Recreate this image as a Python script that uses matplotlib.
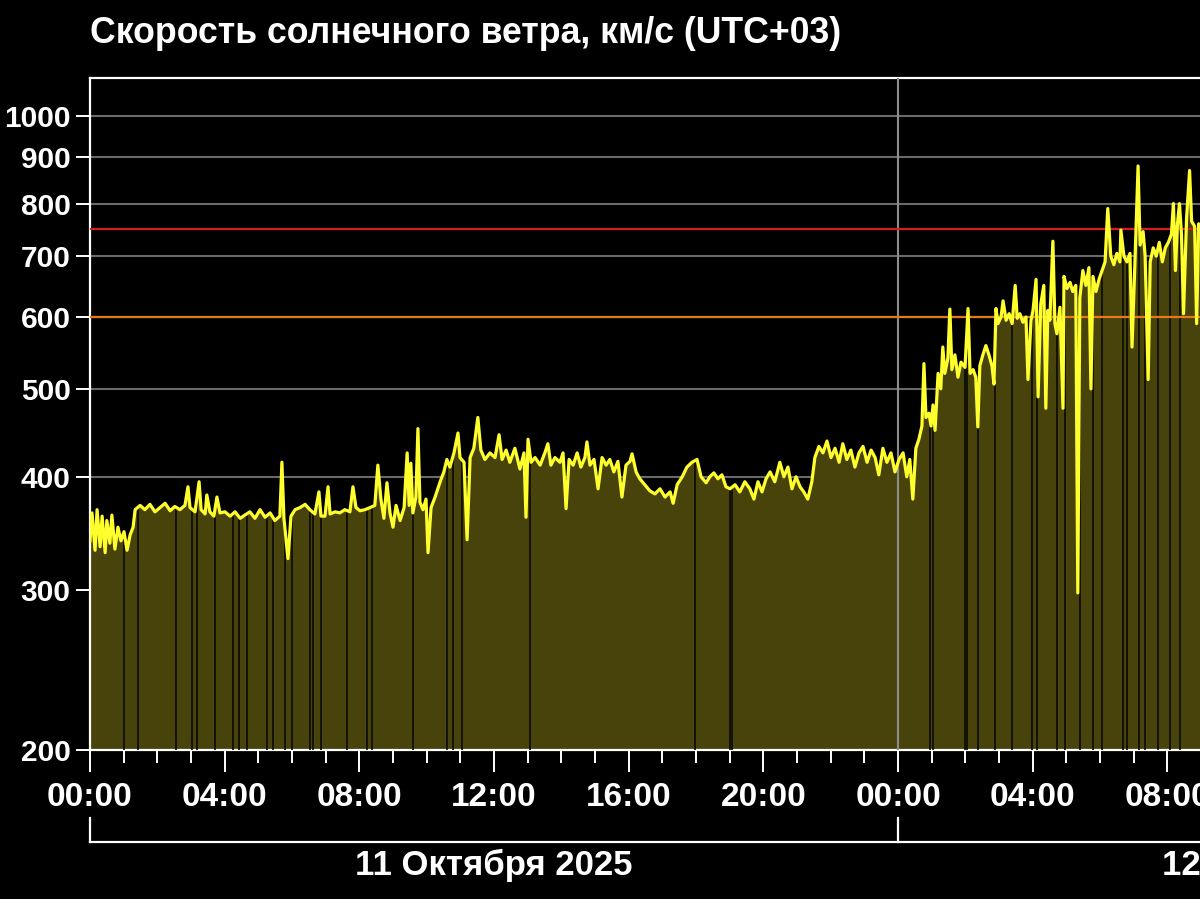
import numpy as np
import matplotlib
matplotlib.use("Agg")
import matplotlib.pyplot as plt
import matplotlib.transforms as mtransforms
from matplotlib.ticker import MultipleLocator

plt.rcParams['font.family'] = ['Liberation Sans', 'DejaVu Sans']
plt.rcParams['font.weight'] = 'bold'

title = 'Скорость солнечного ветра, км/с (UTC+03)'
day_labels = ['11 Октября 2025', '12 Октября 2025']
day_starts = [0, 24]

# hours since 11 Oct 00:00 (UTC+03), solar wind speed in km/s
hours = [
    0.00, 0.06, 0.15, 0.21, 0.30, 0.36, 0.45, 0.50, 0.59, 0.65,
    0.74, 0.83, 0.92, 1.01, 1.10, 1.19, 1.28, 1.34, 1.49, 1.63,
    1.78, 1.93, 2.08, 2.23, 2.38, 2.52, 2.67, 2.82, 2.91, 2.97,
    3.12, 3.24, 3.30, 3.42, 3.47, 3.56, 3.68, 3.77, 3.86, 4.01,
    4.16, 4.31, 4.46, 4.60, 4.75, 4.90, 5.05, 5.20, 5.35, 5.49,
    5.64, 5.70, 5.76, 5.88, 5.97, 6.09, 6.24,
    6.39, 6.53, 6.68, 6.80, 6.86, 6.98, 7.07, 7.13, 7.28, 7.42,
    7.57, 7.72, 7.81, 7.90, 8.02, 8.17, 8.32, 8.46, 8.55, 8.64,
    8.73, 8.82, 8.91, 9.00, 9.09, 9.21, 9.33, 9.42, 9.48, 9.53,
    9.59, 9.68, 9.74, 9.80, 9.89, 9.98, 10.04, 10.13, 10.25, 10.40,
    10.51, 10.60, 10.69, 10.81, 10.93, 10.99, 11.11, 11.20, 11.29, 11.40,
    11.52, 11.61, 11.73, 11.88, 12.03, 12.15, 12.24, 12.36,
    12.47, 12.62, 12.77, 12.89, 12.95, 13.01, 13.10, 13.22, 13.37, 13.51,
    13.60, 13.69, 13.81, 13.96, 14.05, 14.14, 14.23, 14.35, 14.47, 14.58,
    14.70, 14.76, 14.85, 14.97, 15.09, 15.21, 15.33, 15.44, 15.56, 15.68,
    15.80, 15.92, 16.04, 16.10, 16.22, 16.33, 16.48, 16.63, 16.78, 16.93,
    17.08, 17.23, 17.32, 17.44, 17.59, 17.73, 17.88, 18.03, 18.15, 18.30,
    18.41, 18.53, 18.65, 18.77,
    18.89, 19.01, 19.16, 19.30, 19.45, 19.60, 19.72, 19.84, 19.96, 20.08,
    20.20, 20.34, 20.49, 20.61, 20.73, 20.85, 20.97, 21.09, 21.20, 21.32,
    21.44, 21.53, 21.65, 21.77, 21.89, 22.01, 22.13, 22.25, 22.36, 22.48,
    22.60, 22.72, 22.84, 22.96, 23.08, 23.20, 23.32, 23.43, 23.55, 23.67,
    23.79, 23.91, 24.03,
    24.15, 24.26, 24.35, 24.44, 24.53, 24.62, 24.71, 24.77, 24.83, 24.92,
    24.98, 25.04, 25.10, 25.19, 25.27, 25.33, 25.39, 25.48, 25.54, 25.60,
    25.69, 25.78, 25.87, 25.99, 26.08, 26.14, 26.23, 26.31, 26.37, 26.43,
    26.52, 26.61, 26.70, 26.79, 26.85, 26.91, 26.97, 27.06, 27.12, 27.21,
    27.30, 27.39, 27.48, 27.54, 27.62, 27.71, 27.80, 27.86, 27.95, 28.01,
    28.10, 28.16, 28.24, 28.33, 28.39, 28.45, 28.51,
    28.60, 28.66, 28.72, 28.81, 28.90, 28.93, 29.02, 29.11, 29.19, 29.28,
    29.34, 29.40, 29.49, 29.58, 29.67, 29.73, 29.79, 29.88, 29.97, 30.06,
    30.15, 30.23, 30.32, 30.41, 30.50, 30.59, 30.62, 30.71, 30.80, 30.89,
    30.95, 31.04, 31.13, 31.19, 31.28, 31.34, 31.43, 31.49, 31.58, 31.67,
    31.76, 31.85, 31.94, 32.03, 32.12, 32.18, 32.24, 32.30, 32.36, 32.42,
    32.48, 32.57, 32.66, 32.72, 32.81, 32.87, 32.93, 33.02, 33.14,
]
speed = [
    340, 365, 332, 368, 335, 362, 330, 358, 338, 363,
    333, 352, 340, 348, 332, 345, 352, 368, 372, 368,
    373, 366, 370, 374, 367, 371, 368, 372, 390, 370,
    366, 395, 368, 364, 382, 366, 362, 380, 365, 366,
    362, 366, 360, 363, 366, 360, 368, 361, 365, 358,
    362, 415, 360, 325, 362, 368, 370,
    373, 368, 364, 385, 362, 362, 390, 364, 366, 365,
    368, 366, 390, 370, 367, 368, 370, 372, 412, 378,
    360, 394, 365, 352, 372, 358, 370, 425, 372, 414,
    365, 380, 452, 375, 368, 378, 330, 370, 380, 395,
    405, 418, 410, 425, 447, 420, 415, 341, 420, 430,
    465, 428, 418, 425, 420, 445, 418, 428,
    415, 430, 408, 425, 361, 440, 415, 420, 412, 425,
    435, 412, 420, 415, 425, 369, 418, 412, 425, 410,
    420, 437, 412, 418, 388, 420, 412, 418, 405, 416,
    380, 412, 416, 424, 405, 398, 392, 386, 383, 388,
    380, 385, 374, 392, 400, 410, 415, 418, 400, 394,
    400, 404, 398, 402,
    390, 388, 392, 385, 395, 388, 378, 395, 385, 398,
    405, 395, 415, 400, 410, 388, 400, 390, 385, 378,
    395, 420, 432, 425, 438, 420, 430, 415, 435, 418,
    428, 410, 425, 432, 415, 428, 420, 402, 430, 415,
    425, 405, 418,
    425, 400, 418, 378, 430, 440, 455, 533, 465, 470,
    455, 480, 450, 520, 500, 556, 520, 540, 612, 525,
    545, 515, 535, 528, 613, 520, 525, 515, 454, 530,
    545, 558, 545, 530, 506, 613, 590, 600, 625, 595,
    605, 590, 650, 598, 605, 592, 600, 512, 595, 610,
    660, 490, 620, 650, 476, 610, 595,
    727, 590, 575, 615, 476, 665, 645, 655, 640, 650,
    298, 630, 675, 650, 680, 500, 665, 640, 660, 675,
    690, 790, 700, 685, 705, 690, 748, 700, 690, 705,
    556, 695, 880, 720, 745, 700, 512, 690, 715, 700,
    725, 690, 715, 725, 740, 800, 675, 760, 800, 740,
    605, 770, 870, 765, 755, 590, 760, 750, 745,
]

# moments with missing data (dark stripes through the fill)
gap_hours = [1.01, 1.43, 2.55, 3.03, 3.18, 3.71, 4.25, 4.43, 4.66, 5.26,
             5.44, 5.79, 6.00, 6.53, 6.62, 6.86, 7.63, 8.23, 8.38, 9.59,
             10.60, 10.78, 11.05, 13.07, 17.97, 19.00, 19.07, 24.95, 25.04,
             25.99, 26.05, 26.37, 26.88, 27.38, 27.98, 28.13, 28.72, 28.96,
             29.40, 29.79, 30.06, 30.68, 30.80, 31.16, 31.33, 31.72, 32.08,
             32.37]

y_ticks = [200, 300, 400, 500, 600, 700, 800, 900, 1000]
grid_levels = [300, 400, 500, 600, 700, 800, 900, 1000]
level_red = 750
level_orange = 600

hours = np.array(hours)
speed = np.array(speed)

fig = plt.figure(figsize=(12, 8.99), dpi=100, facecolor='black')
# the axes run past the right edge, the picture shows only ~33 h of 48
ax = fig.add_axes([0.075, 0.1657, 1.3467, 0.7475], facecolor='black')

ax.set_yscale('log')
ax.set_ylim(200, 1100)
ax.set_xlim(0, 48)

for lv in grid_levels:
    ax.axhline(lv, color='#6a6a6a', lw=1.5, zorder=1)

ax.fill_between(hours, 200, speed, color='#48430a', lw=0, zorder=2)
gap_top = np.interp(gap_hours, hours, speed)
ax.vlines(gap_hours, 200, gap_top, color='#0a0a00', lw=1.2, zorder=3)

ax.axvline(24, color='#8c8c8c', lw=1.5, zorder=4)
ax.axhline(level_red, color='#d41e1e', lw=1.6, zorder=4)
ax.axhline(level_orange, color='#e87818', lw=1.6, zorder=4)

ax.plot(hours, speed, color='#ffff2e', lw=2.3, zorder=5)

ax.set_yticks(y_ticks)
ax.set_yticklabels([str(v) for v in y_ticks])
ax.yaxis.set_minor_locator(plt.NullLocator())

x_major = list(range(0, 49, 4))
ax.set_xticks(x_major)
ax.set_xticklabels([f'{h % 24:02d}:00' for h in x_major])
ax.xaxis.set_minor_locator(MultipleLocator(1))

ax.tick_params(axis='y', which='major', colors='white', labelsize=21.5,
               length=10, width=1.4, pad=4)
ax.tick_params(axis='x', which='major', colors='white', labelsize=24,
               length=16, width=1.4, pad=7)
ax.tick_params(axis='x', which='minor', colors='white', length=9, width=1.4)

for side in ['left', 'top', 'bottom']:
    ax.spines[side].set_color('white')
    ax.spines[side].set_linewidth(1.6)
ax.spines['right'].set_visible(False)

fig.text(0.075, 0.963, title, color='white', fontsize=25.7,
         fontweight='bold', va='center', ha='left')

# day brackets below the time axis
trans = mtransforms.blended_transform_factory(ax.transData, fig.transFigure)
ax.plot([0, 48], [0.0634, 0.0634], color='white', lw=1.6,
        transform=trans, clip_on=False)
for d, lab in zip(day_starts, day_labels):
    ax.plot([d, d], [0.0634, 0.0901], color='white', lw=1.6,
            transform=trans, clip_on=False)
    ax.text(d + 12, 0.0378, lab, color='white', fontsize=25,
            fontweight='bold', ha='center', va='center', transform=trans)

fig.savefig('out.png', dpi=100, facecolor='black')
